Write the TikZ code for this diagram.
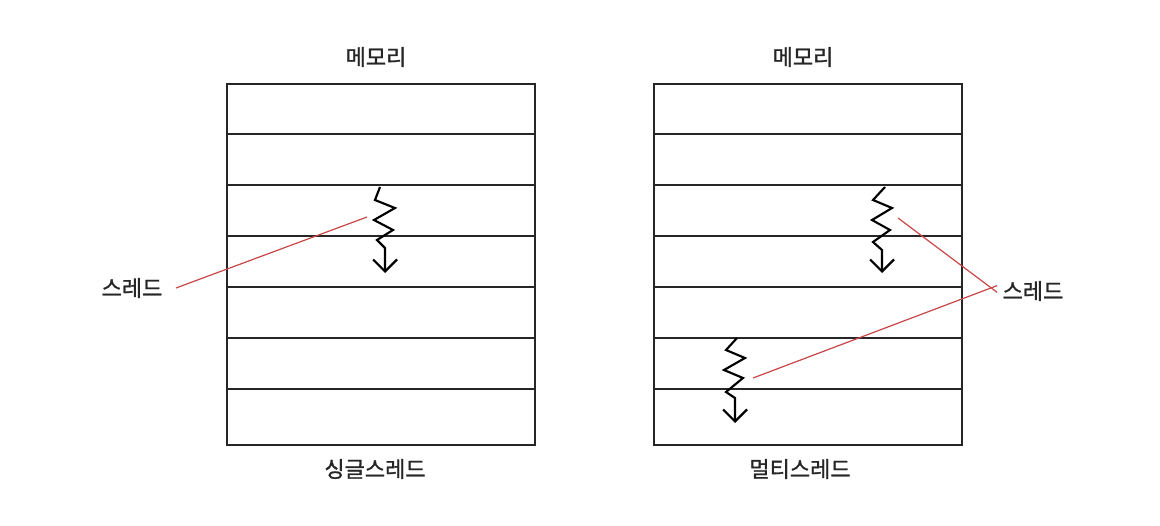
\documentclass[tikz,border=0pt]{standalone}
\usepackage{fontspec}
\setmainfont{Noto Sans CJK KR}
\newfontfamily\krlabel{Noto Sans CJK KR}[FakeBold=1.2]
\usetikzlibrary{arrows.meta}
\definecolor{pointer}{RGB}{200,70,70}
\tikzset{
  frame/.style={draw=black!85, line width=1.6pt},
  cell/.style={draw=black!85, line width=2.1pt},
  thread/.style={draw=black, line width=1.6pt, line join=miter, -{Straight Barb[length=9pt,width=18pt,line width=1.6pt]}},
  callout/.style={draw=pointer, line width=0.9pt},
  label/.style={inner sep=0pt, font=\krlabel\fontsize{16.5pt}{19pt}\selectfont, text=black!85}
}
\begin{document}
\begin{tikzpicture}[x=0.75pt,y=-0.75pt]
\useasboundingbox[fill=white] (0,0) rectangle (1160,525);
% left memory
\node[frame, minimum width=308*0.75pt, minimum height=361*0.75pt, anchor=north west, inner sep=0pt] (memL) at (226,83) {};
\foreach \yy in {134,185,236,287,338,389}
  \draw[cell] (226,\yy) -- (534,\yy);
% right memory
\node[frame, minimum width=308*0.75pt, minimum height=361*0.75pt, anchor=north west, inner sep=0pt] (memR) at (653,83) {};
\foreach \yy in {134,185,236,287,338,389}
  \draw[cell] (653,\yy) -- (961,\yy);
% titles
\node[label] (titleL) at (376,57) {메모리};
\node[label] (titleR) at (803,57) {메모리};
\node[label] (capL) at (375,469) {싱글스레드};
\node[label] (capR) at (800,469) {멀티스레드};
\node[label] (thrL) at (132,288) {스레드};
\node[label] (thrR) at (1033,291) {스레드};
% threads
\draw[thread] (380,187) -- (375,200) -- (395,208) -- (374,220) -- (393,230) -- (377,240) -- (385,248) -- (385,273);
\draw[thread] (885,187) -- (873,200) -- (892,208) -- (872,220) -- (890,230) -- (873,242) -- (882,250) -- (882,273);
\draw[thread] (737,338) -- (726,350) -- (745,358) -- (724,370) -- (743,378) -- (726,392) -- (735,398) -- (735,423);
% pointer anchors
\coordinate (tipL) at (367,217);
\coordinate (tipR1) at (898,218);
\coordinate (tipR2) at (753,378);
\draw[callout] ([xshift=10pt]thrL.east) coordinate (fromL) -- (tipL);
\draw[callout] ([xshift=-4pt,yshift=-1pt]thrR.west) coordinate (fromR1) -- (tipR1);
\draw[callout] ([xshift=-4pt,yshift=4pt]thrR.west) coordinate (fromR2) -- (tipR2);
\end{tikzpicture}
\end{document}
